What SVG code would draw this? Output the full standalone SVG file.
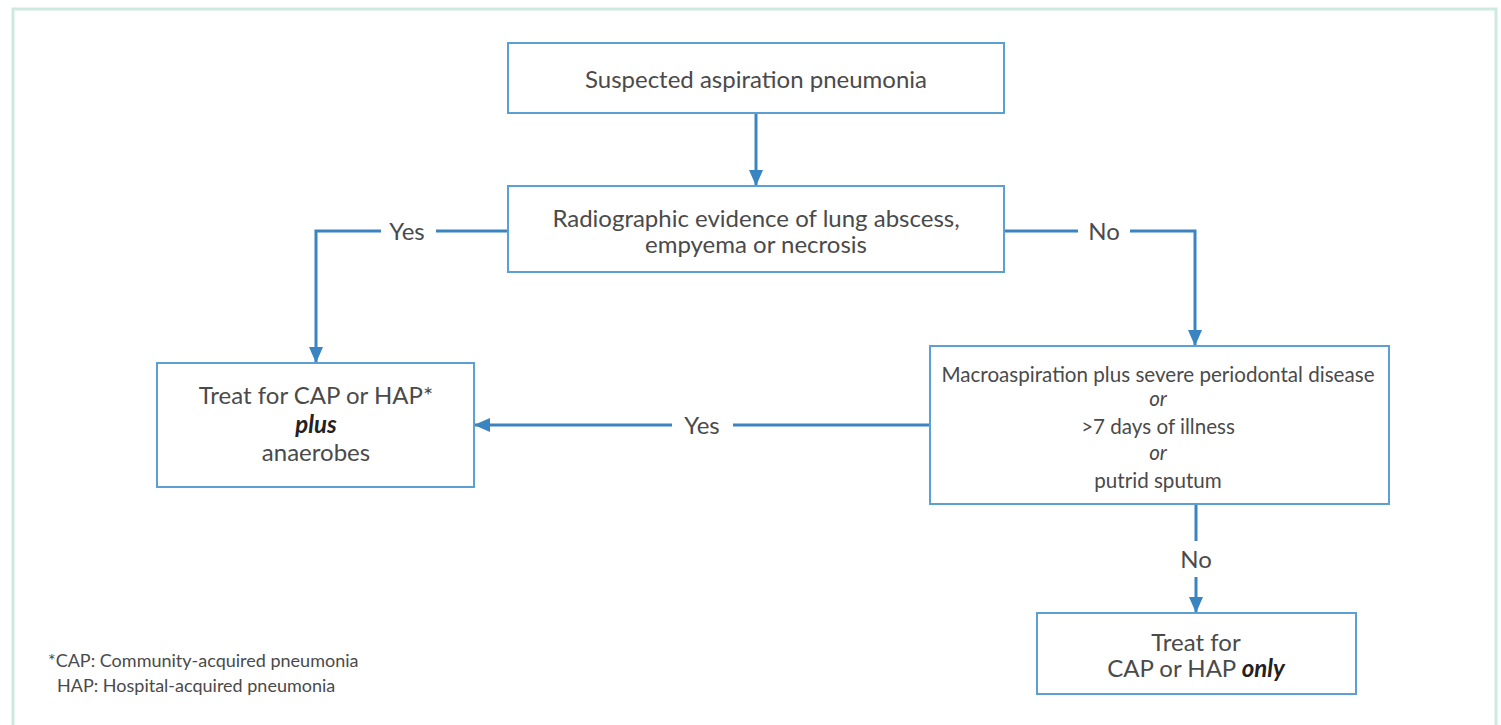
<svg xmlns="http://www.w3.org/2000/svg" width="1501" height="725" viewBox="0 0 1501 725">
<style>
.node rect{fill:#fff;stroke:#5b9fd3;stroke-width:2}
.t{font-family:Lato,"Noto Sans",sans-serif;font-size:24px;fill:#4a4a4a;text-anchor:middle}
.s{font-size:20.6px}
.lbl{font-family:Lato,"Noto Sans",sans-serif;font-size:24px;fill:#4a4a4a;text-anchor:middle}
.fn{font-family:Lato,"Noto Sans",sans-serif;font-size:18px;fill:#4a4a4a}
.b{font-weight:bold;font-style:italic;fill:#222}
.c{fill:none;stroke:#3a84c1;stroke-width:3}
</style>
<defs>
<marker id="ah" markerWidth="16" markerHeight="14" refX="15" refY="7" orient="auto" markerUnits="userSpaceOnUse" viewBox="0 0 16 14">
<path d="M0,0 L16,7 L0,14 Z" fill="#3a84c1"/>
</marker>
</defs>
<rect x="0" y="0" width="1501" height="725" fill="#fff"/>
<rect x="13" y="9" width="1483" height="740" fill="none" stroke="#cde9e1" stroke-width="3"/>
<g id="connectors">
<path class="c" d="M756,113 V185" marker-end="url(#ah)"/>
<path class="c" d="M508,231 H436 M381,231 H316 V362" marker-end="url(#ah)"/>
<path class="c" d="M1004,231 H1078 M1130,231 H1195 V345" marker-end="url(#ah)"/>
<path class="c" d="M930,425 H733 M672,425 H475" marker-end="url(#ah)"/>
<path class="c" d="M1196,504 V541 M1196,577 V612" marker-end="url(#ah)"/>
<text class="lbl" x="407" y="240">Yes</text>
<text class="lbl" x="1104" y="240">No</text>
<text class="lbl" x="702" y="434">Yes</text>
<text class="lbl" x="1196" y="568">No</text>
</g>
<g id="n1" class="node">
<rect x="508" y="43" width="496" height="70"/>
<text class="t" x="756" y="88">Suspected aspiration pneumonia</text>
</g>
<g id="n2" class="node">
<rect x="508" y="186" width="496" height="86"/>
<text class="t" x="756" y="227">Radiographic evidence of lung abscess,</text>
<text class="t" x="756" y="253">empyema or necrosis</text>
</g>
<g id="n3" class="node">
<rect x="157" y="363" width="317" height="124"/>
<text class="t" x="316" y="404">Treat for CAP or HAP*</text>
<text class="t b" x="316" y="433">plus</text>
<text class="t" x="316" y="461">anaerobes</text>
</g>
<g id="n4" class="node">
<rect x="930" y="346" width="459" height="158"/>
<text class="t s" x="1158" y="382">Macroaspiration plus severe periodontal disease</text>
<text class="t s" x="1158" y="406" font-style="italic">or</text>
<text class="t s" x="1158" y="434">&gt;7 days of illness</text>
<text class="t s" x="1158" y="460" font-style="italic">or</text>
<text class="t s" x="1158" y="488">putrid sputum</text>
</g>
<g id="n5" class="node">
<rect x="1037" y="613" width="319" height="81"/>
<text class="t" x="1196" y="651">Treat for</text>
<text class="t" x="1196" y="677">CAP or HAP <tspan class="b">only</tspan></text>
</g>
<g id="footnote">
<text class="fn" x="48" y="667">*CAP: Community-acquired pneumonia</text>
<text class="fn" x="57" y="692">HAP: Hospital-acquired pneumonia</text>
</g>
</svg>
